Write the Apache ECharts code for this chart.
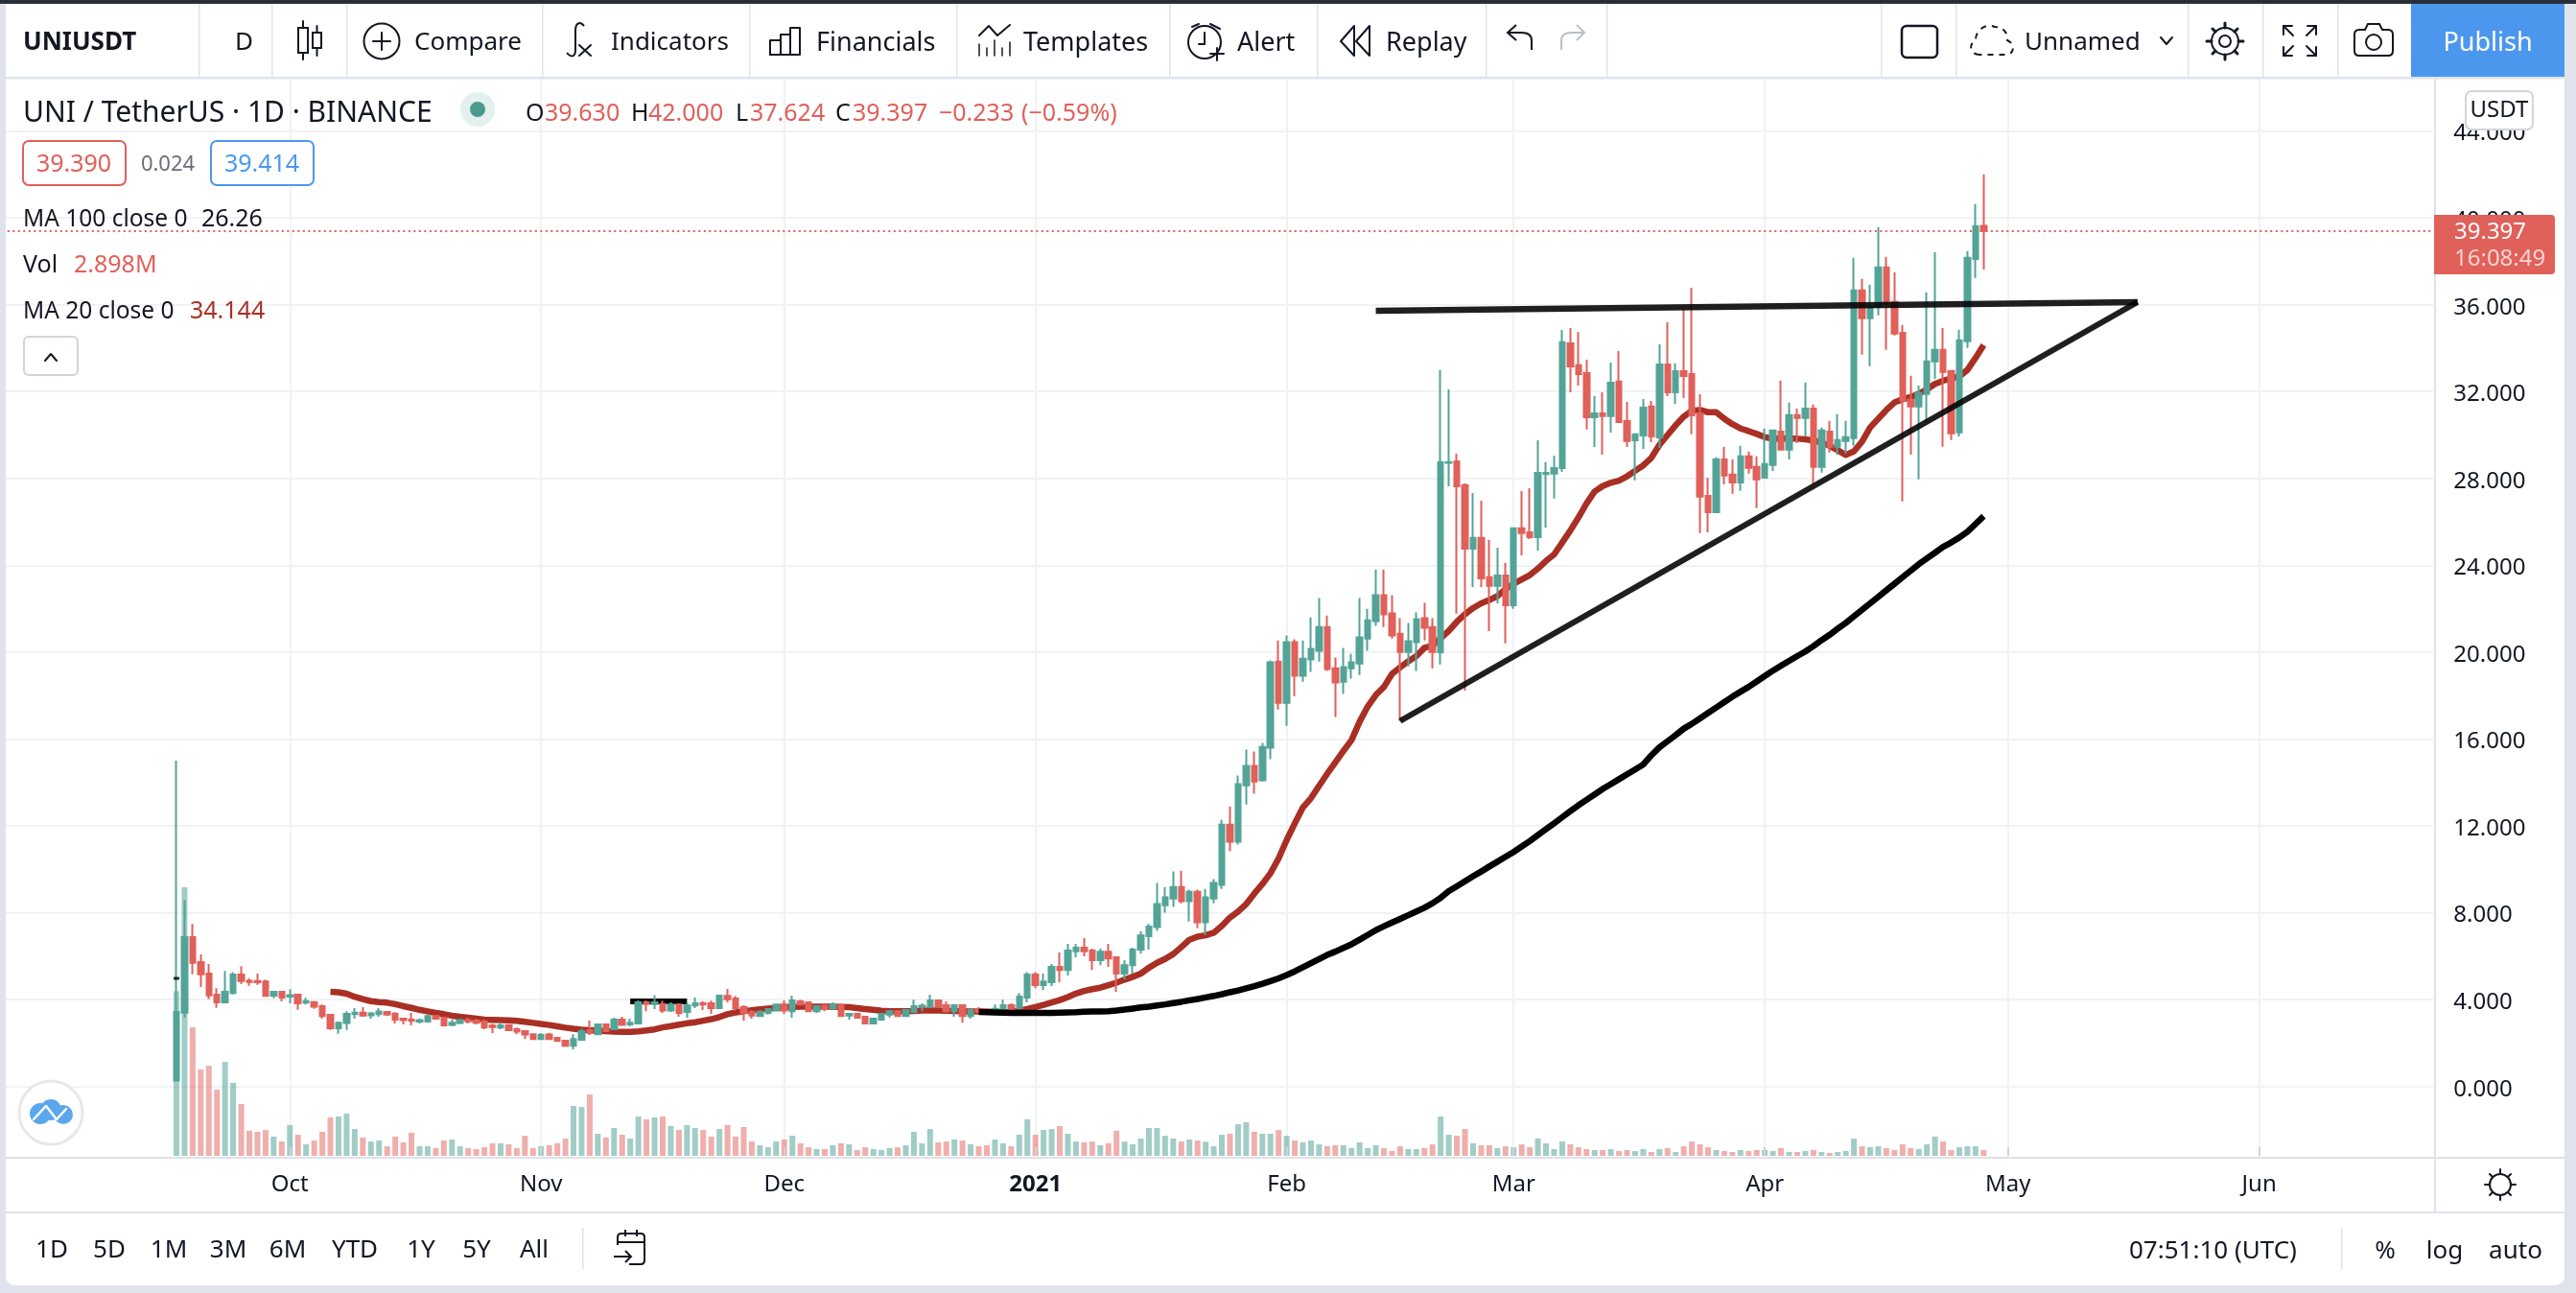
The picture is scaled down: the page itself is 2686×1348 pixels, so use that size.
<!DOCTYPE html>
<html><head><meta charset="utf-8"><title>UNIUSDT</title>
<style>html,body{margin:0;padding:0;background:#e0e3eb}#c{width:2686px;height:1348px}</style>
<script src="https://cdn.jsdelivr.net/npm/echarts@6/dist/echarts.min.js"></script>
</head><body><div id="c"></div>
<script>
// first candle date and number of empty days on each side of the series
const firstDay = '2020-09-17';
const daysBefore = 21, totalDays = 300;
// rows: open, close, low, high
const candles = [
[0.27,3.43,0.27,15.0],[3.40,6.88,3.18,8.58],[6.88,5.70,5.17,7.48],[5.73,5.17,4.58,6.08],[5.20,4.20,4.02,5.64],[4.23,3.87,3.62,4.53],[3.87,4.36,3.84,5.32],[4.31,5.15,4.24,5.27],[5.15,4.86,4.71,5.54],[4.87,4.81,4.64,4.98],
[4.86,4.80,4.68,5.20],[4.84,4.17,4.14,4.92],[4.18,4.36,4.06,4.39],[4.36,4.09,3.92,4.36],[4.14,4.21,3.83,4.48],[4.23,3.83,3.53,4.23],[3.86,3.93,3.77,4.08],[3.89,3.68,3.58,3.89],[3.70,3.25,3.12,3.78],[3.30,2.68,2.61,3.34],
[2.68,2.94,2.43,2.99],[2.92,3.34,2.61,3.47],[3.33,3.40,3.12,3.61],[3.40,3.27,3.21,3.65],[3.28,3.37,3.12,3.42],[3.33,3.45,3.21,3.61],[3.43,3.31,3.25,3.47],[3.36,3.08,2.90,3.42],[3.12,3.06,2.86,3.17],[3.08,3.02,2.81,3.39],
[2.99,3.06,2.90,3.12],[2.99,3.25,2.99,3.30],[3.25,3.12,3.08,3.30],[3.17,2.81,2.77,3.17],[2.84,2.94,2.77,3.08],[2.92,3.06,2.87,3.12],[3.06,2.99,2.90,3.17],[3.03,2.94,2.86,3.12],[2.99,2.72,2.64,3.08],[2.80,2.74,2.46,2.89],
[2.72,2.81,2.64,2.94],[2.83,2.59,2.55,2.87],[2.64,2.53,2.41,2.72],[2.55,2.39,2.19,2.55],[2.41,2.19,2.19,2.41],[2.19,2.37,2.15,2.46],[2.39,2.19,2.15,2.46],[2.24,2.11,2.05,2.27],[2.11,1.88,1.84,2.15],[1.88,2.19,1.71,2.41],
[2.15,2.55,2.11,2.68],[2.59,2.46,2.37,3.03],[2.41,2.86,2.37,2.90],[2.86,2.55,2.50,2.86],[2.64,3.08,2.59,3.17],[3.08,2.84,2.81,3.21],[2.86,2.94,2.77,3.12],[2.90,3.87,2.90,3.96],[3.87,3.80,3.47,3.96],[3.80,3.87,3.56,4.21],
[3.80,3.50,3.39,3.95],[3.50,3.77,3.43,3.87],[3.78,3.39,3.21,3.83],[3.43,3.73,3.17,3.87],[3.73,3.83,3.61,4.09],[3.84,3.78,3.52,3.92],[3.83,3.61,3.34,3.95],[3.61,4.18,3.56,4.23],[4.17,4.02,3.87,4.49],[4.05,3.61,3.50,4.17],
[3.65,3.39,3.03,3.74],[3.43,3.27,3.12,3.52],[3.25,3.43,3.21,3.52],[3.39,3.56,3.31,3.56],[3.50,3.78,3.50,3.78],[3.78,3.50,3.34,3.96],[3.47,3.96,3.17,4.18],[3.92,3.78,3.78,4.00],[3.87,3.47,3.43,3.92],[3.47,3.70,3.39,3.70],
[3.72,3.56,3.47,3.78],[3.61,3.75,3.52,3.87],[3.75,3.25,3.21,3.78],[3.27,3.34,3.08,3.39],[3.34,3.17,3.17,3.34],[3.21,2.90,2.86,3.24],[2.90,3.12,2.90,3.12],[3.08,3.34,3.03,3.37],[3.31,3.47,3.17,3.52],[3.47,3.25,3.25,3.52],
[3.25,3.52,3.21,3.52],[3.43,3.70,3.39,4.00],[3.68,3.72,3.47,3.83],[3.70,3.96,3.61,4.23],[3.96,3.70,3.65,4.00],[3.74,3.47,3.39,3.92],[3.47,3.74,3.21,3.78],[3.74,3.25,2.94,3.78],[3.25,3.52,3.12,3.52],[3.56,3.43,3.39,3.65],
[3.53,3.43,3.39,3.61],[3.47,3.58,3.39,3.78],[3.53,3.74,3.47,4.00],[3.74,3.56,3.47,3.83],[3.61,4.14,3.56,4.31],[4.09,5.15,3.87,5.27],[5.15,4.67,4.53,5.27],[4.67,4.84,4.45,5.20],[4.80,5.51,4.62,5.64],[5.51,5.37,4.80,6.17],
[5.37,6.26,5.11,6.57],[6.23,6.39,5.95,6.57],[6.39,6.23,5.99,6.83],[6.26,5.82,5.37,6.35],[5.82,6.21,5.59,6.35],[6.21,5.90,5.51,6.57],[5.95,5.20,4.36,5.99],[5.20,5.59,4.93,5.82],[5.59,6.30,5.20,6.39],[6.30,6.96,6.12,7.14],
[6.92,7.36,6.30,7.49],[7.34,8.40,7.16,9.37],[8.35,8.71,8.00,9.19],[8.66,9.19,8.27,9.90],[9.19,8.53,8.44,9.94],[8.53,8.97,7.60,9.06],[8.97,7.56,7.29,9.06],[7.56,8.71,6.98,9.10],[8.66,9.37,8.44,9.55],[9.28,12.06,9.10,12.28],
[12.06,11.27,10.83,12.90],[11.27,13.92,11.14,14.32],[13.87,14.76,12.99,15.51],[14.76,14.05,13.48,15.42],[14.10,15.64,14.05,15.82],[15.60,19.53,15.07,19.62],[19.57,17.67,17.36,20.54],[17.67,20.46,16.61,20.77],[20.46,18.91,17.98,20.59],[18.91,19.70,18.64,20.54],
[19.66,20.15,19.09,21.60],[20.06,21.16,19.57,22.49],[21.16,19.22,19.13,21.69],[19.26,18.60,17.01,19.75],[18.64,19.31,18.07,20.19],[19.26,19.53,18.78,19.93],[19.48,20.68,18.95,22.49],[20.63,21.47,20.06,22.00],[21.43,22.62,21.21,23.81],[22.62,21.74,21.16,23.81],
[21.78,20.77,20.63,22.62],[20.85,20.01,16.83,21.56],[20.01,20.50,19.35,21.34],[20.46,21.52,19.13,21.83],[21.56,21.12,20.54,22.27],[21.16,20.01,19.26,21.56],[20.00,28.75,19.43,32.99],[28.72,28.75,27.64,32.10],[28.79,27.64,21.77,29.14],[27.69,24.77,18.23,27.77],
[24.77,25.26,23.00,27.33],[25.26,23.40,23.00,26.98],[23.45,23.05,20.97,25.17],[23.05,23.53,22.25,24.81],[23.53,22.16,20.40,24.11],[22.16,25.70,21.99,25.70],[25.70,25.48,24.46,27.42],[25.52,25.30,25.21,27.55],[25.30,28.26,24.68,29.76],[28.20,28.26,25.74,28.75],
[28.22,28.48,27.07,29.05],[28.48,34.27,28.30,34.84],[34.22,33.16,31.97,34.93],[33.21,32.81,32.28,34.75],[32.85,30.82,30.25,33.47],[30.82,31.00,29.45,31.79],[31.00,30.87,29.10,31.97],[30.87,32.41,30.11,33.34],[32.46,30.60,30.56,33.87],[30.64,29.72,29.45,31.53],
[29.76,30.03,27.91,30.03],[29.98,31.26,29.36,31.66],[31.31,29.94,29.67,31.57],[29.89,33.25,29.41,34.18],[33.25,31.97,31.79,35.19],[31.97,32.94,31.44,33.30],[32.94,32.72,31.70,35.81],[32.81,30.91,30.03,36.78],[31.00,27.16,25.48,31.88],[27.20,26.45,25.52,28.04],
[26.45,28.87,26.42,28.97],[28.88,28.13,27.73,29.46],[28.18,27.82,27.29,28.88],[27.82,29.02,27.43,29.50],[29.02,28.49,28.22,29.24],[28.53,27.96,26.63,29.02],[28.04,28.66,28.04,30.30],[28.62,30.21,28.35,30.25],[30.16,29.33,29.28,32.51],[29.33,30.92,28.88,31.49],
[30.92,30.78,29.63,31.22],[30.78,31.22,29.94,32.42],[31.22,28.53,27.73,31.40],[28.53,30.21,28.27,30.34],[30.16,29.46,29.19,30.65],[29.46,29.77,29.10,30.96],[29.72,29.90,29.15,30.65],[29.86,36.66,29.50,38.16],[36.66,35.38,33.70,37.19],[35.38,35.91,33.17,36.92],
[35.91,37.72,35.51,39.57],[37.72,36.08,33.92,38.20],[36.13,34.67,34.58,37.50],[34.71,31.58,26.94,35.07],[31.62,31.31,29.10,32.73],[31.31,31.93,27.96,32.28],[31.89,33.39,30.61,36.57],[33.39,33.92,32.59,38.42],[33.92,32.90,29.46,34.93],[32.95,30.08,29.77,32.99],
[30.12,34.36,29.94,34.85],[34.32,38.16,34.01,38.47],[38.11,39.62,37.23,40.63],[39.63,39.397,37.624,42.0]
];
// daily volume in millions
const volumes = [
82.9,135.2,64.7,43.5,45.4,33.3,47.3,36.7,26.1,12.6,12.1,13.0,9.7,7.2,15.5,10.6,5.8,7.7,12.1,19.3,
19.8,21.3,13.5,9.2,7.2,7.7,4.8,9.7,6.8,11.6,4.8,4.8,3.9,7.7,8.2,4.8,3.9,3.4,4.3,6.3,
6.3,5.8,3.9,10.1,3.9,4.8,5.3,6.3,8.7,25.1,24.6,30.9,11.1,9.2,14.0,10.6,8.7,19.8,18.4,19.3,
19.8,15.0,13.0,15.5,14.0,13.0,9.7,13.5,15.5,9.7,14.5,7.2,5.3,4.3,7.2,8.2,10.1,6.3,4.3,3.4,
3.4,5.3,6.3,5.8,2.9,4.3,3.4,2.9,3.9,4.3,5.3,12.1,6.3,13.5,6.8,7.2,8.2,7.7,5.8,4.8,
5.3,8.2,6.3,4.8,10.6,18.4,10.6,13.0,13.5,15.0,11.1,7.2,6.8,7.2,5.3,6.3,12.6,7.2,5.8,8.7,
14.0,14.0,10.1,8.7,7.2,8.2,7.7,7.1,4.8,10.6,11.1,15.9,16.9,12.1,11.1,11.1,13.0,10.1,7.7,6.8,
7.7,5.8,4.8,5.3,5.3,3.9,6.8,3.9,5.3,3.9,2.4,4.8,3.4,3.4,3.9,5.8,19.8,10.6,10.1,13.5,
6.3,5.3,5.3,3.9,4.8,4.3,5.8,4.3,8.7,6.3,3.4,7.2,5.8,4.3,3.4,2.9,2.9,3.4,2.4,2.9,
2.4,3.4,1.9,3.4,3.9,1.9,4.8,7.2,5.8,4.3,2.9,2.4,1.9,2.9,2.4,2.9,2.9,2.4,3.9,1.9,
1.9,2.4,2.9,1.9,1.4,1.9,2.4,8.7,4.8,4.3,4.8,3.9,2.9,5.8,3.9,3.4,5.8,9.7,7.2,2.9,
4.3,4.8,4.8,2.898
];
// MA 20 line, starting at candle 19
const ma20Start = 19;
const ma20 = [
4.36,4.34,4.27,4.13,4.02,3.93,3.89,3.86,3.79,3.70,3.62,3.53,3.46,3.39,3.33,3.26,3.21,3.17,3.13,3.08,3.07,3.06,3.05,3.02,2.98,2.93,2.88,2.83,2.77,2.71,2.66,2.62,2.59,2.57,2.55,2.53,2.52,2.52,2.54,2.58,2.63,
2.72,2.78,2.85,2.91,2.96,3.03,3.10,3.20,3.33,3.41,3.46,3.51,3.55,3.59,3.62,3.65,3.66,3.68,3.68,3.68,3.68,3.68,3.67,3.65,3.61,3.57,3.53,3.49,3.47,3.47,3.47,3.48,3.50,3.50,3.50,3.49,3.48,3.47,3.46,3.45,3.44,3.43,3.42,3.43,3.49,3.57,3.66,3.76,3.87,3.98,4.12,4.28,4.40,4.48,4.55,4.66,4.78,4.92,5.05,5.20,5.47,
5.70,5.87,6.10,6.42,6.76,6.90,6.96,7.08,7.40,7.78,8.05,8.40,8.88,9.32,9.82,10.50,11.35,12.12,12.85,13.28,13.85,14.40,14.92,15.45,15.95,16.80,17.50,18.03,18.40,19.00,19.30,19.58,19.82,20.20,20.30,
20.65,20.98,21.40,21.75,22.03,22.25,22.40,22.58,22.90,23.15,23.35,23.55,23.85,24.20,24.50,25.05,25.60,26.20,26.85,27.40,27.65,27.80,27.90,28.10,28.35,28.60,28.95,29.55,30.00,30.45,30.85,31.12,31.15,31.05,
31.05,30.75,30.50,30.30,30.18,30.05,29.90,29.83,29.83,29.83,29.83,29.80,29.75,29.65,29.50,29.30,29.08,29.25,29.70,30.35,30.75,31.15,31.50,31.65,31.75,31.90,32.10,32.35,32.50,32.60,32.70,33.00,33.55,34.14
];
// MA 100 line, starting at candle 99
const ma100Start = 99;
const ma100 = [
3.43,3.42,3.41,3.40,3.39,3.39,3.39,3.39,3.39,3.39,3.40,3.41,3.42,3.44,3.45,3.46,3.47,3.50,3.54,3.59,3.64,3.68,3.73,3.78,3.84,3.90,3.97,4.03,4.10,4.17,4.25,4.34,4.42,4.52,4.62,4.73,4.85,4.98,5.13,5.30,5.49,5.68,5.87,6.06,6.21,6.38,6.55,6.76,6.98,7.20,7.38,7.55,7.72,7.89,8.06,8.23,8.44,8.69,9.00,9.22,9.45,9.68,9.90,10.13,10.35,10.58,10.80,11.05,11.30,11.58,11.85,12.12,12.40,12.68,12.95,13.20,13.45,13.70,13.92,14.15,14.38,14.60,14.83,15.25,15.62,15.90,16.18,16.48,16.70,16.95,17.20,17.45,17.70,17.95,18.18,18.40,18.65,18.90,19.15,19.38,19.60,19.82,20.03,20.28,20.55,20.80,21.08,21.35,21.65,21.95,22.25,22.55,22.85,23.15,23.45,23.75,24.05,24.32,24.58,24.85,25.05,25.28,25.55,25.90,26.26
];
// hand-drawn lines: [candle number, price]
const resistanceLine = [[148,35.72],[242,36.12]];
const supportLine = [[151,16.83],[242,36.12]];
const shortLevel = [[56,3.92],[63,3.92]];
const firstMark = 4.98;
const lastPrice = 39.397;
// time axis labels
const tickDates = ['2020-10-01','2020-11-01','2020-12-01','2021-01-01','2021-02-01','2021-03-01','2021-04-01','2021-05-01','2021-06-01'];
const tickLabels = ['Oct','Nov','Dec','2021','Feb','Mar','Apr','May','Jun'];
const rangeLabels = ['1D','5D','1M','3M','6M','YTD','1Y','5Y','All'];

const UP='#53a497', DOWN='#e0605a', DARKRED='#a92f24', INK='#131722', LINE='#e0e3eb', GRID='#f1f2f4';
const FAMILY='"Noto Sans"';

function dayString(n){
  const d=new Date(Date.parse(firstDay+'T00:00:00Z')+n*86400000);
  return d.toISOString().slice(0,10);
}
const dates=[]; for(let n=-daysBefore;n<totalDays-daysBefore;n++) dates.push(dayString(n));
const labelOf={}; tickDates.forEach((d,i)=>labelOf[d]=tickLabels[i]);
const isTick=(i,v)=>labelOf[v]!==undefined;
const lineData=(arr)=>arr.map(p=>[dayString(p[0]),p[1]]);

const el=[];
const Z=41;
function T(text,x,y,size,color,opt){opt=opt||{};
  y+=2;
  el.push({type:'text',z:opt.z||Z+1,style:{text,x,y,fill:color||INK,font:(opt.weight||'normal')+' '+size+'px '+FAMILY,
    textAlign:opt.align||'left',textVerticalAlign:'middle',align:opt.align||'left',verticalAlign:'middle'}});
}
function R(x,y,w,h,fill,opt){opt=opt||{};
  el.push({type:'rect',z:opt.z===undefined?Z:opt.z,shape:{x,y,width:w,height:h,r:opt.r||0},style:{fill:fill,stroke:opt.stroke||null,lineWidth:opt.lw||0}});
}
function L(pts,color,lw,opt){opt=opt||{};
  el.push({type:'polyline',z:opt.z||Z+1,shape:{points:pts},style:{stroke:color||INK,lineWidth:lw||2,fill:null,lineDash:opt.dash||null,lineCap:'round',lineJoin:'round'}});
}
function C(cx,cy,r,fill,stroke,lw){
  el.push({type:'circle',z:Z+1,shape:{cx,cy,r},style:{fill:fill||null,stroke:stroke||null,lineWidth:lw||0}});
}
let pathCount=0;
function P(d,stroke,lw,fill,dash){
  const name='iconPath'+(pathCount++);
  echarts.graphic.registerShape(name,echarts.graphic.extendPath(d,{}));
  el.push({type:name,z:Z+1,shape:{},style:{stroke:stroke||null,lineWidth:lw||0,fill:fill||null,lineDash:dash||null}});
}
// page panels
R(6,4,2668,1336,'#ffffff',{z:-1,r:[0,0,10,10]});
R(0,0,6,1348,LINE,{z:40});
R(6,0,2668,80,'#ffffff',{z:40});
R(0,0,2686,4,'#2a2e39',{z:40});
R(6,80,2668,2.5,LINE,{z:40});
R(6,1206,2668,2.5,'#dfe1e6',{z:40});
R(6,1208,2668,55,'#ffffff',{z:40});
R(6,1263,2668,2.5,LINE,{z:40});
R(6,1265,2668,75,'#ffffff',{z:40,r:[0,0,10,10]});
R(2538,82,2,1181,LINE,{z:40});
// toolbar separators
[207,283,361,565,781,997,1219,1373,1549,1675,1961,2039,2281,2359,2437].forEach(x=>R(x,4,1.5,76,LINE));
R(2514,4,160,76,'#4c97ee');
T('Publish',2594,43,27,'#ffffff',{align:'center'});
T('UNIUSDT',24,43,26,INK,{weight:'bold'});
T('D',245,43,26);
// bars icon
R(311,29,10,26,null,{stroke:INK,lw:2}); L([[316,22],[316,29]]);L([[316,55],[316,62]]);
R(326,34,9,16,null,{stroke:INK,lw:2}); L([[330.5,27],[330.5,34]]);L([[330.5,50],[330.5,58]]);
// compare
C(398,43,18.5,null,INK,2); L([[389,43],[407,43]]);L([[398,34],[398,52]]);
T('Compare',432,43,26);
// indicators
P('M 609 27 C 604 21 600 25 600 32 L 600 52 C 600 60 595 60 591 55',INK,2);
L([[604,47],[616,58]]);L([[616,47],[604,58]]);
T('Indicators',637,43,26);
// financials
L([[803,57],[803,42],[814,42],[814,57]]);L([[814,57],[814,36],[824,36],[824,57]]);L([[824,57],[824,29],[834,29],[834,57],[803,57]]);
T('Financials',851,43,27);
// templates
L([[1021,37],[1031,27],[1040,37],[1053,26]]);
[1021,1029,1037,1045,1053].forEach((x,i)=>L([[x,58],[x,[46,50,42,50,44][i]]],INK,1.5));
T('Templates',1067,43,27);
// alert
C(1256,44,17,null,INK,2);L([[1256,34],[1256,46],[1250,46]]);L([[1243,28],[1250,25]]);L([[1262,25],[1272,30]]);
R(1262,48,14,14,'#ffffff');L([[1269,50],[1269,63]]);L([[1262,56],[1276,56]]);
T('Alert',1290,43,27);
// replay
L([[1412,27],[1398,43],[1412,58],[1412,27]]);L([[1428,27],[1414,43],[1428,58],[1428,27]]);
T('Replay',1445,43,27);
// undo / redo
P('M 1597 52 L 1597 42 C 1597 36 1592 34 1586 34 L 1572 34 M 1581 26 L 1572 34 L 1581 42',INK,2);
P('M 1628 52 L 1628 42 C 1628 36 1633 34 1639 34 L 1652 34 M 1644 26 L 1652 34 L 1644 42','#bdc0c7',2);
// square + cloud
R(1983,27,37,33,null,{stroke:INK,lw:2.5,r:5});
P('M 2064 57 C 2054 57 2052 46 2060 42 C 2060 30 2072 24 2080 28 C 2090 28 2094 36 2093 42 C 2102 46 2100 57 2092 57 Z',INK,2,null,[6,6]);
T('Unnamed',2111,43,26);
L([[2253,39],[2259,46],[2265,39]]);
// gear
C(2320,43,14,null,INK,2);C(2320,43,6,null,INK,2);
[[2320,24,2320,29],[2320,57,2320,62],[2301,43,2306,43],[2334,43,2339,43],[2307,30,2310,33],[2330,53,2333,56],[2307,56,2310,53],[2330,33,2333,30]].forEach(a=>L([[a[0],a[1]],[a[2],a[3]]],INK,3));
// fullscreen
L([[2381,36],[2381,27],[2390,27]]);L([[2381,27],[2391,37]]);L([[2415,36],[2415,27],[2406,27]]);L([[2415,27],[2405,37]]);
L([[2381,49],[2381,58],[2390,58]]);L([[2381,58],[2391,48]]);L([[2415,49],[2415,58],[2406,58]]);L([[2415,58],[2405,48]]);
// camera
P('M 2460 31 L 2466 31 L 2469 25 L 2481 25 L 2484 31 L 2490 31 Q 2495 31 2495 36 L 2495 53 Q 2495 58 2490 58 L 2460 58 Q 2455 58 2455 53 L 2455 36 Q 2455 31 2460 31 Z',INK,2);
C(2475,44,8,null,INK,2);
// title and price rows
T('UNI / TetherUS \u00b7 1D \u00b7 BINANCE',24,116,30);
C(498,114,18,'#e3f0ee');C(498,114,8,'#4a9a8e');
[['O',548,INK],['39.630',568,DOWN],['H',658,INK],['42.000',676,DOWN],['L',767,INK],['37.624',782,DOWN],['C',871,INK],['39.397',889,DOWN],['\u22120.233',979,DOWN],['(\u22120.59%)',1065,DOWN]].forEach(a=>T(a[0],a[1],117,25,a[2]));
R(24,147,107,46,'#ffffff',{stroke:DOWN,lw:2,r:6});T('39.390',77,170,25,DOWN,{align:'center'});
T('0.024',175,170,22,'#6a6d78',{align:'center'});
R(220,147,107,46,'#ffffff',{stroke:'#4c97ee',lw:2,r:6});T('39.414',273,170,25,'#4c97ee',{align:'center'});
T('MA 100 close 0',24,227,24.5);T('26.26',210,227,25);
T('Vol',24,275,25);T('2.898M',77,275,25,DOWN);
T('MA 20 close 0',24,323,24.5);T('34.144',198,323,25,DARKRED);
R(25,351,56,40,'#ffffff',{stroke:'#d1d4dc',lw:2,r:5});L([[47,376],[53,369],[59,376]]);
// USDT box and price tag
R(2571,95,70,40,'#ffffff',{stroke:'#d1d4dc',lw:2,r:6});T('USDT',2606,113,24,INK,{align:'center'});
R(2538,224,126,62,DOWN,{r:[0,4,4,0]});T('39.397',2559,240,24,'#ffffff');T('16:08:49',2559,268,24,'#fbd3d0');
// logo
C(53,1160,33,'#ffffff','#e8e8e8',3);
C(42,1161,11,'#5aa7ec');C(53,1157,11,'#5aa7ec');C(66,1162,10,'#5aa7ec');R(31,1160,44,12,'#5aa7ec',{r:5});
L([[35,1167],[48,1153],[59,1167],[69,1156]],'#ffffff',2.5);
// sun
C(2607,1235,11,null,INK,2);
[[2607,1219,2607,1223],[2607,1247,2607,1251],[2591,1235,2595,1235],[2619,1235,2623,1235],[2596,1224,2599,1227],[2615,1243,2618,1246],[2596,1246,2599,1243],[2615,1227,2618,1224]].forEach(a=>L([[a[0],a[1]],[a[2],a[3]]],INK,2));
// bottom bar
[54,114,176,238,300,370,439,497,557].forEach((x,i)=>T(rangeLabels[i],x,1302,26,INK,{align:'center'}));
R(607,1280,1.5,43,LINE);
P('M 644 1298 L 644 1290 Q 644 1286 648 1286 L 668 1286 Q 672 1286 672 1290 L 672 1314 Q 672 1318 668 1318 L 656 1318 M 644 1295 L 672 1295 M 652 1282 L 652 1289 M 664 1282 L 664 1289 M 640 1310 L 658 1310 M 652 1304 L 658 1310 L 652 1316',INK,2);
T('07:51:10 (UTC)',2220,1303,26);
R(2441,1280,1.5,43,LINE);
T('%',2487,1303,26,INK,{align:'center'});T('log',2549,1303,26,INK,{align:'center'});T('auto',2623,1303,26,INK,{align:'center'});

const option={
  animation:false,
  backgroundColor:LINE,
  textStyle:{fontFamily:FAMILY},
  grid:{left:2.3,top:46,width:2535,height:1177.28,containLabel:false},
  xAxis:[
    {type:'category',data:dates,boundaryGap:true,z:0,
     axisLine:{show:false},axisTick:{show:false},axisLabel:{show:false},
     splitLine:{show:true,interval:isTick,alignWithLabel:true,lineStyle:{color:GRID,width:2}}},
    {type:'category',data:dates,boundaryGap:true,z:50,position:'bottom',offset:-8,
     axisLine:{show:false},
     axisTick:{show:true,inside:true,length:9,interval:isTick,alignWithLabel:true,lineStyle:{color:'#cfd2d8',width:2}},
     splitLine:{show:false},
     axisLabel:{show:true,interval:isTick,margin:8,fontSize:24,color:INK,fontFamily:FAMILY,hideOverlap:false,
       formatter:v=>labelOf[v]==='2021'?'{b|2021}':(labelOf[v]||''),
       rich:{b:{fontWeight:'bold',fontSize:24,color:INK,fontFamily:FAMILY}}}}
  ],
  yAxis:[
    {type:'value',position:'right',min:-4,max:48,interval:4,z:0,scale:false,
     axisLine:{show:false},axisTick:{show:false},
     splitLine:{show:true,lineStyle:{color:GRID,width:2}},
     axisLabel:{show:true,margin:21,fontSize:24,color:INK,fontFamily:FAMILY,showMinLabel:false,showMaxLabel:false,align:'left',
       formatter:v=>'{v|'+v.toFixed(3)+'}',
       rich:{v:{padding:[6,0,0,0],fontSize:24,color:INK,fontFamily:FAMILY}}}},
    {type:'value',min:-8.84,max:559.8,show:false,splitLine:{show:false}}
  ],
  graphic:{elements:el},
  series:[
    {type:'bar',name:'Vol',xAxisIndex:0,yAxisIndex:1,z:1,barWidth:6,silent:true,
     data:volumes.map((v,i)=>({value:[dayString(i),v],itemStyle:{color:candles[i][1]>=candles[i][0]?'rgba(83,164,151,0.55)':'rgba(224,96,90,0.5)'}}))},
    {type:'line',name:'Level',xAxisIndex:0,yAxisIndex:0,z:2,showSymbol:false,silent:true,lineStyle:{color:'#000',width:6,cap:'butt'},data:lineData(shortLevel)},
    {type:'line',name:'MA 20',xAxisIndex:0,yAxisIndex:0,z:2,showSymbol:false,silent:true,lineStyle:{color:DARKRED,width:6.5,join:'round'},
     data:ma20.map((v,i)=>[dayString(i+ma20Start),v])},
    {type:'candlestick',name:'UNIUSDT',xAxisIndex:0,yAxisIndex:0,z:3,barWidth:6,silent:true,
     encode:{x:0,y:[1,2,3,4]},
     itemStyle:{color:UP,color0:DOWN,borderColor:UP,borderColor0:DOWN,borderWidth:2},
     data:candles.map((c,i)=>[dayString(i),c[0],c[1],c[2],c[3]]),
     markLine:{silent:true,symbol:'none',label:{show:false},animation:false,z:3,
       lineStyle:{color:DOWN,type:[2,3.5],width:2},data:[{yAxis:lastPrice}]}},
    {type:'scatter',name:'Start mark',xAxisIndex:0,yAxisIndex:0,z:3,symbol:'rect',symbolSize:[6,3],silent:true,itemStyle:{color:'#000'},data:[[dayString(0),firstMark]]},
    {type:'line',name:'MA 100',xAxisIndex:0,yAxisIndex:0,z:4,showSymbol:false,silent:true,lineStyle:{color:'#000',width:6.5,join:'round'},
     data:ma100.map((v,i)=>[dayString(i+ma100Start),v])},
    {type:'line',name:'Resistance',xAxisIndex:0,yAxisIndex:0,z:5,showSymbol:false,silent:true,lineStyle:{color:'rgba(0,0,0,0.88)',width:6.5},data:lineData(resistanceLine)},
    {type:'line',name:'Support',xAxisIndex:0,yAxisIndex:0,z:5,showSymbol:false,silent:true,lineStyle:{color:'rgba(0,0,0,0.88)',width:6},data:lineData(supportLine)}
  ]
};
const chart=echarts.init(document.getElementById('c'),null,{renderer:'canvas',width:2686,height:1348});
chart.setOption(option);
</script></body></html>
